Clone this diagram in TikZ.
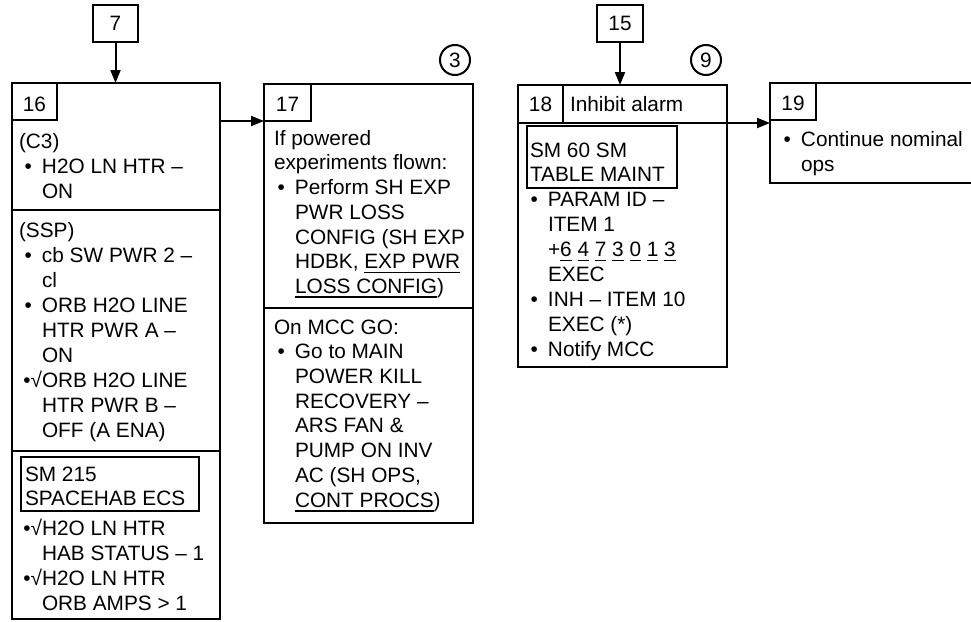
\documentclass[tikz,border=0pt]{standalone}
\usepackage{fontspec}
\setmainfont{Liberation Sans}
\usetikzlibrary{arrows.meta}
\newcommand\myul[1]{\setbox0\hbox{#1}\rlap{\rule[-4.6pt]{\wd0}{1.6pt}}\box0\relax}
\newcommand\bul{\llap{•\hspace{10pt}}}
\newcommand\bulck{\llap{•√}}
\begin{document}
\begin{tikzpicture}[x=1pt,y=-1pt,line join=miter,
  box/.style={draw,line width=2.4pt,inner sep=0pt,outer sep=0pt,anchor=north west},
  sbox/.style={draw,line width=2pt,inner sep=0pt,outer sep=0pt,anchor=north west,font=\fontsize{20.8}{24.8}\selectfont},
  txt/.style={anchor=base west,inner sep=0pt,outer sep=0pt,font=\fontsize{20.8}{24.8}\selectfont},
  lbl/.style={anchor=base,inner sep=0pt,outer sep=0pt,font=\fontsize{20.8}{24.8}\selectfont},
  arr/.style={line width=2pt,-{Triangle[length=13pt,width=10pt]}},
  circ/.style={draw,circle,line width=2pt,minimum size=30pt,inner sep=0pt,font=\fontsize{20.8}{24.8}\selectfont},
  div/.style={line width=2.4pt}]
\useasboundingbox (0,0) rectangle (971,621);
% top small boxes
\node[sbox,minimum width=45pt,minimum height=37pt] (b7) at (93,5) {7};
\node[sbox,minimum width=46pt,minimum height=37pt] (b15) at (597,5) {15};
% main boxes
\node[box,minimum width=208pt,minimum height=536pt] (b16) at (12,83) {};
\node[box,minimum width=209pt,minimum height=439pt] (b17) at (264,84) {};
\node[box,minimum width=209pt,minimum height=282pt] (b18) at (518,85) {};
\node[box,minimum width=240pt,minimum height=100pt] (b19) at (770,83) {};
% label boxes
\node[sbox,minimum width=45pt,minimum height=37pt] (l16) at (12,83) {};
\node[sbox,minimum width=47pt,minimum height=37pt] (l17) at (264,84) {};
\node[sbox,minimum width=46pt,minimum height=37pt] (l19) at (770,83) {};
\node[lbl] (n16) at (34.5,111.5) {16};
\node[lbl] (n17) at (287.5,111.5) {17};
\node[lbl] (n18) at (540.5,111.7) {18};
\node[lbl] (n19) at (793,110.5) {19};
% circles
\node[circ] (c3) at (455,60) {3};
\node[circ] (c9) at (706,60) {9};
% dividers
\draw[div] (b16.west |- 0,210) -- (b16.east |- 0,210);
\draw[div] (b16.west |- 0,451) -- (b16.east |- 0,451);
\draw[div] (b17.west |- 0,308) -- (b17.east |- 0,308);
\draw[div] (b18.west |- 0,123) -- (b18.east |- 0,123);
\draw[line width=2pt] (563,85) -- (563,123);
% inner boxes
\node[sbox,minimum width=178pt,minimum height=54pt] (i16) at (21,457) {};
\node[sbox,minimum width=150pt,minimum height=62pt] (i18) at (527,126) {};
% arrows
\draw[arr] (b7.south) -- (b7.south |- b16.north);
\draw[arr] (b15.south) -- (b15.south |- b18.north);
\draw[arr] (b16.east |- l17.south) -- (b17.west |- l17.south);
\draw[arr] (b18.east |- 0,123) -- (b19.west |- 0,123);
% box 16 text
\node[txt] (t1) at (19,148) {(C3)};
\node[txt] (t2) at (42,173) {\bul H2O LN HTR –};
\node[txt] (t3) at (42,198) {ON};
\node[txt] (t4) at (19,237) {(SSP)};
\node[txt] (t5) at (42,262) {\bul cb SW PWR 2 –};
\node[txt] (t6) at (42,287) {cl};
\node[txt] (t7) at (42,312) {\bul ORB H2O LINE};
\node[txt] (t8) at (42,337) {HTR PWR A –};
\node[txt] (t9) at (42,362) {ON};
\node[txt] (t10) at (42,387) {\bulck ORB H2O LINE};
\node[txt] (t11) at (42,412) {HTR PWR B –};
\node[txt] (t12) at (42,437) {OFF (A ENA)};
\node[txt] (t13) at (25,481) {SM 215};
\node[txt] (t14) at (25,505) {SPACEHAB ECS};
\node[txt] (t15) at (42,535) {\bulck H2O LN HTR};
\node[txt] (t16) at (42,560) {HAB STATUS – 1};
\node[txt] (t17) at (42,585) {\bulck H2O LN HTR};
\node[txt] (t18) at (42,610) {ORB AMPS > 1};
% box 17 text
\node[txt] (u1) at (274,145) {If powered};
\node[txt] (u2) at (274,169.7) {experiments flown:};
\node[txt] (u3) at (295,194.4) {\bul Perform SH EXP};
\node[txt] (u4) at (295,219) {PWR LOSS};
\node[txt] (u5) at (295,244) {CONFIG (SH EXP};
\node[txt] (u6) at (295,268.5) {HDBK, \myul{EXP PWR}};
\node[txt] (u7) at (295,293) {\myul{LOSS CONFIG})};
\node[txt] (u8) at (274,334) {On MCC GO:};
\node[txt] (u9) at (295,358.7) {\bul Go to MAIN};
\node[txt] (u10) at (295,383.4) {POWER KILL};
\node[txt] (u11) at (295,408) {RECOVERY –};
\node[txt] (u12) at (295,432.8) {ARS FAN \&};
\node[txt] (u13) at (295,457.5) {PUMP ON INV};
\node[txt] (u14) at (295,482) {AC (SH OPS,};
\node[txt] (u15) at (295,507) {\myul{CONT PROCS})};
% box 18 text
\node[txt] (v0) at (570,111.7) {Inhibit alarm};
\node[txt] (v1) at (530,157) {SM 60 SM};
\node[txt] (v2) at (530,181.5) {TABLE MAINT};
\node[txt] (v3) at (548,206.7) {\bul PARAM ID –};
\node[txt] (v4) at (548,231.7) {ITEM 1};
\node[txt] (v5) at (548,256.7) {+\myul{6} \myul{4} \myul{7} \myul{3} \myul{0} \myul{1} \myul{3}};
\node[txt] (v6) at (548,281.7) {EXEC};
\node[txt] (v7) at (548,306.7) {\bul INH – ITEM 10};
\node[txt] (v8) at (548,331.7) {EXEC (*)};
\node[txt] (v9) at (548,356.7) {\bul Notify MCC};
% box 19 text
\node[txt] (w1) at (801,146.7) {\bul Continue nominal};
\node[txt] (w2) at (801,171.4) {ops};
\end{tikzpicture}
\end{document}
